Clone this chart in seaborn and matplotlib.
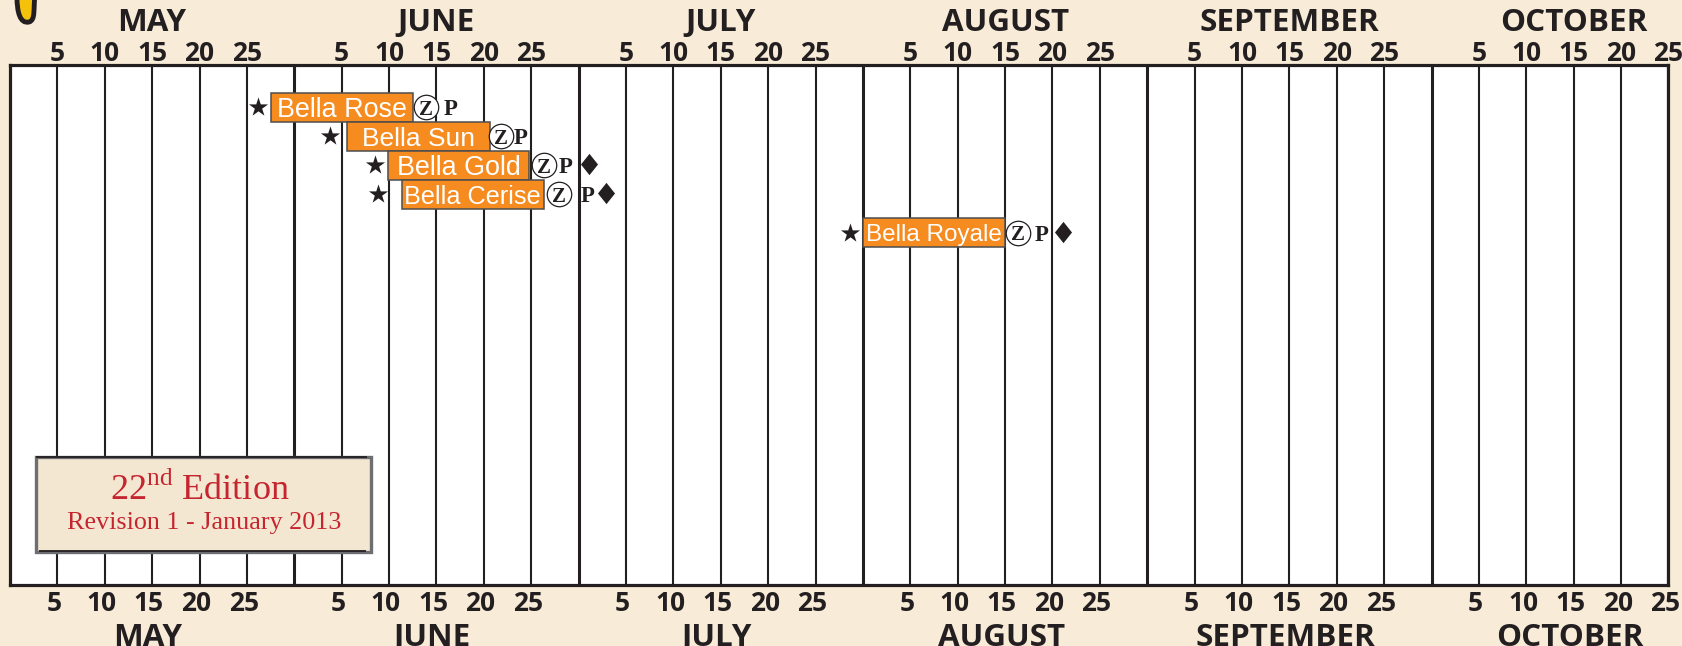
import matplotlib
matplotlib.use("Agg")
import matplotlib.pyplot as plt
from matplotlib.path import Path
from matplotlib.patches import PathPatch, Rectangle
import pandas as pd
import seaborn as sns

# ---------- data (x is days counted from 1 May, every month drawn as 30 days) ----------
varieties = ["Bella Rose", "Bella Sun", "Bella Gold", "Bella Cerise", "Bella Royale"]
rows = [0, 1, 2, 3, 4.33]
starts = [27.5, 35.6, 39.9, 41.35, 90.0]
ends = [42.5, 50.6, 54.8, 56.3, 105.0]
star_days = [26.2, 33.8, 38.5, 38.8, 88.6]
z_days = [43.9, 51.8, 56.3, 57.9, 106.4]
p_days = [46.5, 53.9, 58.6, 61.0, 108.8]
diamond_rows = [1.97, 2.97, 4.3]
diamond_days = [61.1, 62.9, 111.1]
months = ["MAY", "JUNE", "JULY", "AUGUST", "SEPTEMBER", "OCTOBER"]
month_centres = [15, 45, 75, 105, 135, 165]
month_edges = [30, 60, 90, 120, 150]
tick_days = [d for d in range(5, 180, 5) if d % 30 != 0]
tick_labels = [str(((d - 1) % 30 + 1)) for d in tick_days]
edition_line2 = "Revision 1 - January 2013"
label_sizes = [19.4, 19, 19.4, 18.2, 17.5]

W, H = 1683, 646
INK = "#231F20"
PAPER = "#F8ECD9"
ORANGE = "#F68B1F"
RED = "#C5252F"

sns.set_theme(style="white")
plt.rcParams["font.family"] = ["Open Sans", "DejaVu Sans"]
plt.rcParams["mathtext.fontset"] = "custom"
plt.rcParams["mathtext.rm"] = "Liberation Serif"

fig = plt.figure(figsize=(W / 100, H / 100), dpi=100, facecolor=PAPER)
L, R, T, B = 10, 1668.5, 64.5, 585
ax = fig.add_axes([L / W, 1 - B / H, (R - L) / W, (B - T) / H], facecolor="white")

df = pd.DataFrame({"row": rows, "start": starts, "end": ends})
df["length"] = df["end"] - df["start"]
sns.barplot(data=df, x="length", y="row", orient="h", native_scale=True, left=df["start"].values,
            color=ORANGE, saturation=1, width=1, edgecolor="#4D4D4F", linewidth=1.1, ax=ax, zorder=3)

diamond = Path([(0, 1), (0.8, 0), (0, -1), (-0.8, 0), (0, 1)],
               [Path.MOVETO, Path.LINETO, Path.LINETO, Path.LINETO, Path.CLOSEPOLY])
sns.scatterplot(x=star_days, y=rows, marker="*", s=210, color=INK, linewidth=0, ax=ax, zorder=4)
sns.scatterplot(x=diamond_days, y=diamond_rows, marker=diamond, s=235, color=INK, linewidth=0, ax=ax, zorder=4)
sns.scatterplot(x=z_days, y=rows, marker="o", s=310, color="white", edgecolor=INK, linewidth=0.9, ax=ax, zorder=4)

for name, r, a, b, z, p, fs in zip(varieties, rows, starts, ends, z_days, p_days, label_sizes):
    ax.text((a + b) / 2, r, name, color="white", ha="center", va="center_baseline", fontsize=fs,
            family="Liberation Sans", zorder=5)
    ax.text(z, r, "Z", color=INK, ha="center", va="center_baseline", fontsize=15, fontweight="bold",
            family="Liberation Serif", zorder=5)
    ax.text(p, r, "P", color=INK, ha="center", va="center_baseline", fontsize=16.5, fontweight="bold",
            family="Liberation Serif", zorder=5)

ax.set_xlim(0, 175)
ax.set_ylim(16.48, -1.466)
ax.set_xlabel("")
ax.set_ylabel("")
ax.set_yticks([])
ax.set_xticks(month_edges)
ax.set_xticks(tick_days, minor=True)
ax.tick_params(which="both", length=0, labelbottom=False, labeltop=False)
ax.set_axisbelow(True)
ax.grid(False)
ax.grid(True, axis="x", which="major", color=INK, lw=2.2)
ax.grid(True, axis="x", which="minor", color=INK, lw=1.5)
for s in ax.spines.values():
    s.set_color(INK)
    s.set_linewidth(2.3)

# tick and month rows; the bottom rows sit slightly left of the grid lines
shift_d = (lambda v: v + 0.35, lambda v: v - 0.35)
shift_m = (lambda v: v + 0.42, lambda v: v - 0.42)
rows_cfg = [
    ("top", None, tick_days, tick_labels, 19, -1.5),
    ("top", None, month_centres, months, 22.6, 19.0),
    ("bottom", shift_d, tick_days, tick_labels, 19, 3.5),
    ("bottom", shift_m, month_centres, months, 22.6, 27.0),
]
for loc, fn, ticks, labels, size, pad in rows_cfg:
    sec = ax.secondary_xaxis(loc, functions=fn) if fn else ax.secondary_xaxis(loc)
    sec.set_xticks(ticks)
    sec.set_xticklabels(labels, fontsize=size, fontweight="bold", color=INK)
    sec.tick_params(length=0, pad=pad)
    sec.spines[loc].set_visible(False)

# overlay in pixel coordinates for the edition panel and the cropped ornament
ov = fig.add_axes([0, 0, 1, 1], facecolor="none", zorder=10)
ov.set_xlim(0, W)
ov.set_ylim(H, 0)
ov.axis("off")
ov.add_patch(Rectangle((36, 457), 335, 95, facecolor="#F4E7D2", edgecolor="#6D6E71", lw=2.4))
ov.plot([36, 367], [457, 457], color=INK, lw=1.3, solid_capstyle="butt")
ov.plot([39, 366], [551, 551], color=INK, lw=1.3, solid_capstyle="butt")
ov.text(200, 490, "22$^{\\mathrm{nd}}$ Edition", color=RED, fontsize=26, ha="center", va="center",
        family="Liberation Serif")
ov.text(204, 522.5, edition_line2, color=RED, fontsize=18.8, ha="center", va="center",
        family="Liberation Serif")
verts = [(17, -3), (17, 12), (20, 24), (29, 22), (36, 20), (33, 8), (35, -3), (17, -3)]
codes = [Path.MOVETO, Path.CURVE4, Path.CURVE4, Path.CURVE4, Path.CURVE4, Path.CURVE4, Path.CURVE4, Path.CLOSEPOLY]
ov.add_patch(PathPatch(Path(verts, codes), facecolor="#F4C20D", edgecolor=INK, lw=3.5))

fig.savefig("out.png", dpi=100, facecolor=PAPER)
